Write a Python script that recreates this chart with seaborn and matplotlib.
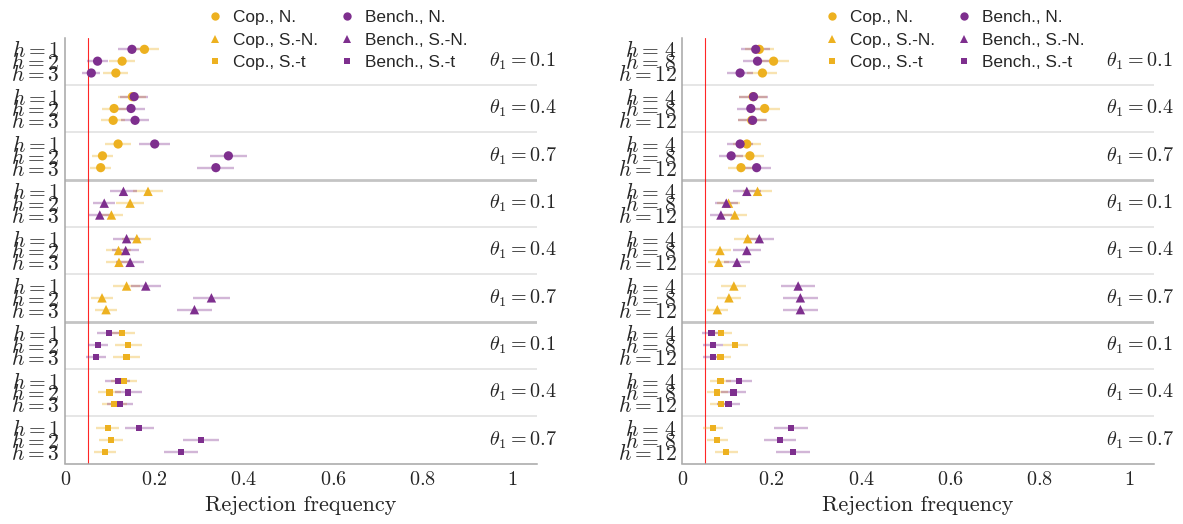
import numpy as np
import pandas as pd
import matplotlib
matplotlib.use("Agg")
import matplotlib.pyplot as plt
import seaborn as sns
from matplotlib.lines import Line2D

# ---- data: rejection frequencies, rows = theta_1, columns = horizon ----
thetas = [0.1, 0.4, 0.7]
distributions = ["N.", "S.-N.", "S.-t"]
horizons_short = [1, 2, 3]
horizons_long = [4, 8, 12]
n_reps = 500  # Monte Carlo replications behind each frequency

cop_n_short = [[0.177, 0.127, 0.113], [0.150, 0.109, 0.107], [0.118, 0.083, 0.079]]
bench_n_short = [[0.149, 0.072, 0.058], [0.154, 0.147, 0.156], [0.200, 0.365, 0.337]]
cop_sn_short = [[0.185, 0.145, 0.103], [0.160, 0.119, 0.120], [0.137, 0.082, 0.091]]
bench_sn_short = [[0.130, 0.087, 0.077], [0.137, 0.135, 0.145], [0.180, 0.327, 0.289]]
cop_st_short = [[0.126, 0.141, 0.137], [0.131, 0.099, 0.110], [0.095, 0.102, 0.088]]
bench_st_short = [[0.097, 0.073, 0.068], [0.117, 0.141, 0.123], [0.165, 0.303, 0.259]]

cop_n_long = [[0.172, 0.204, 0.179], [0.158, 0.184, 0.155], [0.144, 0.151, 0.131]]
bench_n_long = [[0.164, 0.168, 0.129], [0.159, 0.153, 0.157], [0.129, 0.109, 0.166]]
cop_sn_long = [[0.168, 0.103, 0.117], [0.146, 0.084, 0.081], [0.115, 0.104, 0.078]]
bench_sn_long = [[0.144, 0.098, 0.086], [0.172, 0.144, 0.122], [0.259, 0.264, 0.264]]
cop_st_long = [[0.087, 0.118, 0.085], [0.085, 0.078, 0.086], [0.069, 0.078, 0.098]]
bench_st_long = [[0.065, 0.068, 0.068], [0.126, 0.114, 0.103], [0.243, 0.218, 0.247]]

nominal_level = 0.05

panels = [
    (horizons_short, {"Cop.": [cop_n_short, cop_sn_short, cop_st_short],
                      "Bench.": [bench_n_short, bench_sn_short, bench_st_short]}),
    (horizons_long, {"Cop.": [cop_n_long, cop_sn_long, cop_st_long],
                     "Bench.": [bench_n_long, bench_sn_long, bench_st_long]}),
]

COP = "#EDB120"
BENCH = "#7E2F8E"
palette = {"Cop.": COP, "Bench.": BENCH}
markers = {"N.": "o", "S.-N.": "^", "S.-t": "s"}
sizes = {"N.": 44, "S.-N.": 46, "S.-t": 20}
GRID = "#a6a6a6"

sns.set_style("white")
plt.rcParams["mathtext.fontset"] = "cm"
plt.rcParams["font.family"] = ["Liberation Sans", "DejaVu Sans"]

fig = plt.figure(figsize=(11.83, 5.24), dpi=100)
W, H = 1183.0, 524.0
ax_w = 471.3 / W
ax_b = (H - 463.5) / H
ax_h = 426.0 / H
lefts = [65.4 / W, 682.5 / W]

for (horizons, values), left in zip(panels, lefts):
    ax = fig.add_axes([left, ax_b, ax_w, ax_h])

    records = []
    for method in ["Cop.", "Bench."]:
        for d, dist in enumerate(distributions):
            table = values[method][d]
            for t, theta in enumerate(thetas):
                for k, h in enumerate(horizons):
                    records.append({
                        "method": method, "dist": dist, "theta": theta, "h": h,
                        "rate": table[t][k],
                        "row": 4 * (3 * d + t) + k + 1,
                    })
    df = pd.DataFrame(records)
    df["half"] = 1.96 * np.sqrt(df["rate"] * (1 - df["rate"]) / n_reps)

    # confidence intervals
    for method, sub in df.groupby("method", sort=False):
        ax.hlines(sub["row"], sub["rate"] - sub["half"], sub["rate"] + sub["half"],
                  colors=palette[method], alpha=0.35, lw=1.7, zorder=2)

    sns.scatterplot(data=df, x="rate", y="row", hue="method", style="dist",
                    size="dist", palette=palette, markers=markers, sizes=sizes,
                    linewidth=0, legend=False, ax=ax, zorder=3)

    # block separators
    for g in range(1, 9):
        heavy = g % 3 == 0
        ax.axhline(4 * g, color="#c4c4c4" if heavy else "#e2e2e2",
                   lw=2.0 if heavy else 1.2, zorder=1)
    ax.axvline(nominal_level, color="red", lw=0.8, alpha=0.85, zorder=1.5)

    # theta labels
    ytr = ax.get_yaxis_transform()
    for d in range(3):
        for t, theta in enumerate(thetas):
            ax.text(0.898, 4 * (3 * d + t) + 2, rf"$\theta_1 = {theta}$",
                    transform=ytr, ha="left", va="center", fontsize=14.5)

    ax.set_xlim(0, 1.0555)
    ax.set_ylim(36, 0)
    rows = [4 * g + k + 1 for g in range(9) for k in range(3)]
    if horizons[0] == 1:
        hl = [rf"$h={h}$" for h in horizons]
    else:
        hl = [rf"$h={h}$" if h >= 10 else rf"$h=\,{h}$" for h in horizons]
    ax.set_yticks(rows)
    ax.set_yticklabels(hl * 9)
    xt = [0, 0.2, 0.4, 0.6, 0.8, 1]
    ax.set_xticks(xt)
    ax.set_xticklabels(["$0$", "$0.2$", "$0.4$", "$0.6$", "$0.8$", "$1$"])
    ax.tick_params(axis="both", direction="in", length=3.5, width=0.8,
                   color=GRID, labelsize=14.5, pad=3)
    ax.tick_params(axis="y", labelsize=15.5, pad=4)
    ax.tick_params(axis="x", pad=5)
    ax.set_xlabel("Rejection frequency", fontfamily="cmr10", fontsize=16, labelpad=4)
    ax.set_ylabel("")
    for side in ["top", "right"]:
        ax.spines[side].set_visible(False)
    for side in ["left", "bottom"]:
        ax.spines[side].set_color(GRID)
        ax.spines[side].set_linewidth(1.1)

    handles = []
    labels = []
    for method in ["Cop.", "Bench."]:
        for dist in distributions:
            ms = 3.8 if dist == "S.-t" else 6.0
            handles.append(Line2D([], [], ls="none", marker=markers[dist],
                                  color=palette[method], markersize=ms,
                                  markeredgewidth=0))
            labels.append(f"{method}, {dist}")
    fig.legend(handles, labels, ncol=2, frameon=False, loc="upper left",
               bbox_to_anchor=((left * W + 132.6) / W, 1 - 1.5 / H),
               fontsize=12.4, borderpad=0, handlelength=1.0,
               handletextpad=0.53, columnspacing=1.18, labelspacing=0.43)

fig.savefig("out.png", dpi=100)
